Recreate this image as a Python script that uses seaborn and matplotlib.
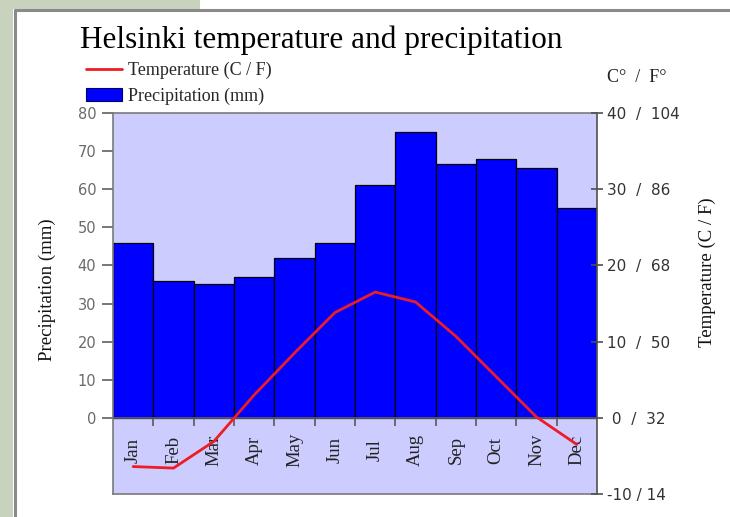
import numpy as np
import pandas as pd
import matplotlib
matplotlib.use("Agg")
import matplotlib.pyplot as plt
import seaborn as sns
from matplotlib.patches import Rectangle
from matplotlib.lines import Line2D

months = ["Jan", "Feb", "Mar", "Apr", "May", "Jun",
          "Jul", "Aug", "Sep", "Oct", "Nov", "Dec"]
precip_mm = [46, 36, 35, 37, 42, 46, 61, 75, 66.5, 68, 65.5, 55]
temp_c = [-6.4, -6.6, -3.1, 3.0, 8.5, 13.8, 16.5, 15.2, 10.7, 5.4, 0.1, -3.5]
left_ticks = [0, 10, 20, 30, 40, 50, 60, 70, 80]
right_ticks = [-10, 0, 10, 20, 30, 40]

df = pd.DataFrame({"month": months, "precip": precip_mm, "temp": temp_c})

sns.set_style("white")
plt.rcParams["font.family"] = ["DejaVu Sans"]
serif = ["Liberation Serif", "DejaVu Serif"]

W, H = 730, 517
fig = plt.figure(figsize=(W / 100, H / 100), dpi=100)
fig.patch.set_facecolor("white")

# outer frame / background strips
tex = "#c9d2bd"
fig.patches.append(Rectangle((0, 0), 13 / W, 1, transform=fig.transFigure,
                             facecolor=tex, edgecolor="none", zorder=0))
fig.patches.append(Rectangle((0, 1 - 9 / H), 200 / W, 9 / H, transform=fig.transFigure,
                             facecolor=tex, edgecolor="none", zorder=0))
fig.lines.append(Line2D([14.5 / W, 14.5 / W], [0, 1 - 10 / H], transform=fig.transFigure,
                        color="#8a8a8a", lw=2.2))
fig.lines.append(Line2D([14.5 / W, 1], [1 - 10 / H, 1 - 10 / H], transform=fig.transFigure,
                        color="#8a8a8a", lw=2.2))

ax = fig.add_axes([113 / W, 1 - 494 / H, (597 - 113) / W, (494 - 113) / H])
ax.set_facecolor("#ccccff")

sns.barplot(data=df, x="month", y="precip", color="#0000ff", saturation=1,
            width=1.0, edgecolor="black", linewidth=0.9, ax=ax, zorder=2)
ax.set_xlim(-0.5, len(months) - 0.5)
ax.set_ylim(-20, 80)
ax.set_yticks(left_ticks)
ax.set_yticklabels([str(t) for t in left_ticks], color="#6a6a6a", fontsize=10.5)
ax.tick_params(axis="y", direction="out", length=8, width=1.2, color="#606060",
               left=True, pad=4)
ax.set_xticks([])
ax.set_xlabel("")
ax.set_ylabel("")
for s in ax.spines.values():
    s.set_color("#7a7a7a")
    s.set_linewidth(1.2)

ax.axhline(0, color="#606060", lw=1.2, zorder=3)
ax.vlines(np.arange(len(months) - 1) + 0.5, -2.1, 0, color="#505050", lw=1.1, zorder=3)
for i, m in enumerate(months):
    ax.text(i, -8.5, m, rotation=90, ha="center", va="center",
            fontsize=13.5, family=serif, color="#222222", zorder=4)

ax2 = ax.twinx()
sns.lineplot(data=df, x="month", y="temp", color="#ee1c25", linewidth=2.0,
             sort=False, ax=ax2, zorder=5)
ax2.set_ylim(-10, 40)
ax2.set_xlim(-0.5, len(months) - 0.5)
ax2.set_yticks(right_ticks)
ax2.set_yticklabels([(f"{t} / {round(t * 9 / 5 + 32)}" if t < 0 else
                      (f" {t}  /  {round(t * 9 / 5 + 32)}" if t == 0 else
                       f"{t}  /  {round(t * 9 / 5 + 32)}"))
                     for t in right_ticks], color="#333333", fontsize=11)
ax2.tick_params(axis="y", direction="inout", length=9, width=1.2, color="#505050",
                right=True, pad=3)
ax2.set_ylabel("")
ax2.set_xlabel("")
for s in ax2.spines.values():
    s.set_visible(False)
ax.spines["right"].set_color("#505050")

# titles and labels
fig.text(80 / W, 1 - 40 / H, "Helsinki temperature and precipitation",
         ha="left", va="center", fontsize=22.5, family=serif, color="black")
fig.text(47 / W, 1 - 290 / H, "Precipitation (mm)", rotation=90, ha="center",
         va="center", fontsize=13.5, family=serif, color="#111111")
fig.text(707 / W, 1 - 272 / H, "Temperature (C / F)", rotation=90, ha="center",
         va="center", fontsize=13.5, family=serif, color="#111111")
fig.text(607 / W, 1 - 78 / H, "C°  /  F°", ha="left", va="center",
         fontsize=13, family=serif, color="#222222")

line_handle = ax2.lines[0]
bar_handle = Rectangle((0, 0), 1, 1, facecolor="#0000ff", edgecolor="#000066", lw=0.8)
fig.legend([line_handle, bar_handle],
           ["Temperature (C / F)", "Precipitation (mm)"],
           loc="upper left", bbox_to_anchor=(86 / W, 1 - 62 / H),
           frameon=False, borderpad=0, borderaxespad=0,
           handlelength=2.0, handleheight=0.8, handletextpad=0.3,
           labelspacing=0.45, prop={"family": serif, "size": 13})

fig.savefig("out.png", dpi=100)
